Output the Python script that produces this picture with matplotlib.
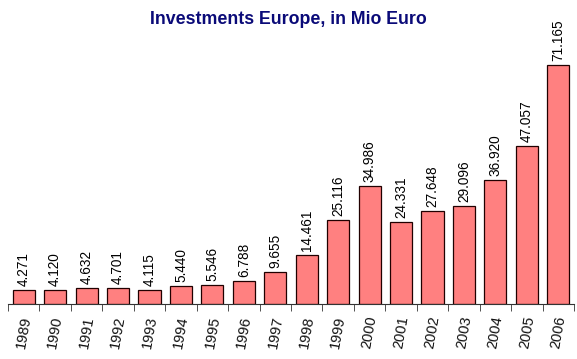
import numpy as np
import matplotlib.pyplot as plt

years = ["1989", "1990", "1991", "1992", "1993", "1994", "1995", "1996", "1997",
         "1998", "1999", "2000", "2001", "2002", "2003", "2004", "2005", "2006"]
invest = [4271, 4120, 4632, 4701, 4115, 5440, 5546, 6788, 9655,
          14461, 25116, 34986, 24331, 27648, 29096, 36920, 47057, 71165]

plt.rcParams['font.family'] = ['Liberation Sans', 'DejaVu Sans']

fig = plt.figure(figsize=(5.77, 3.59), dpi=100)
ax = fig.add_axes([8 / 577, 55 / 359, 566 / 577, 269 / 359])

x = np.arange(len(years))
ax.bar(x, invest, width=0.7, color="#FF8080", edgecolor="#200000", linewidth=0.9)

# value labels on top of the bars
for xi, v in zip(x, invest):
    ax.text(xi, v + 1200, "{:,}".format(v).replace(",", "."),
            rotation=90, ha="center", va="bottom", fontsize=9.8)

ax.set_xlim(-0.5, len(years) - 0.5)
ax.set_ylim(0, 80000)

for s in ["top", "right", "left"]:
    ax.spines[s].set_visible(False)
ax.spines["bottom"].set_color("#333333")
ax.set_yticks([])

ax.set_xticks(x)
ax.set_xticklabels(years, rotation=80, fontsize=10.5, color="#111111")
ax.tick_params(axis="x", which="major", length=0, pad=8)
ax.set_xticks(np.arange(-0.5, len(years), 1), minor=True)
ax.tick_params(axis="x", which="minor", length=5, color="#333333", direction="out")

fig.text(0.5, 1 - 20 / 359, "Investments Europe, in Mio Euro", ha="center", va="center",
         fontsize=12.8, fontweight="bold", color="#0A0A78")

fig.savefig("out.png", dpi=100)
